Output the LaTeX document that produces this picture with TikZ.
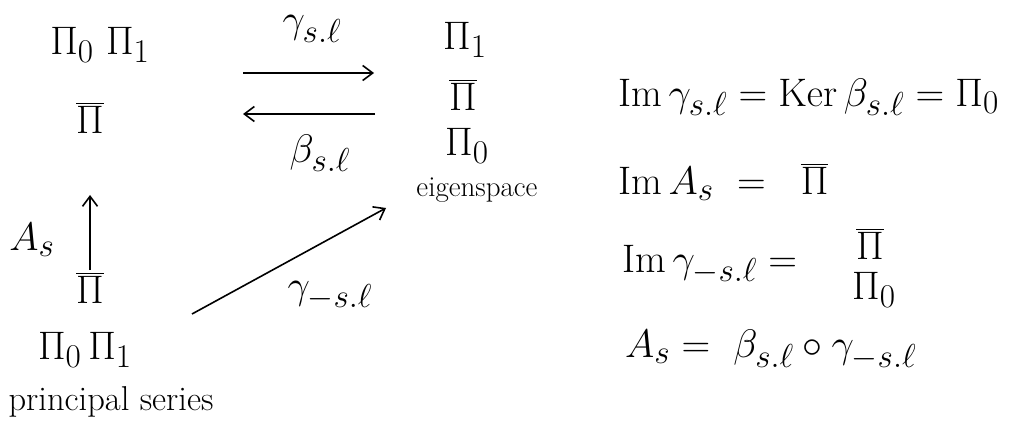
\documentclass[tikz,border=0pt]{standalone}
\usepackage{graphicx}
\usetikzlibrary{arrows.meta}
\newcommand{\myBM}[1]{\scalebox{1.6}{$#1$}}
\begin{document}
\begin{tikzpicture}[x=1pt,y=-1pt,
  lbl/.style={inner sep=0pt,font=\fontsize{24.88}{28}\selectfont},
  word/.style={inner sep=0pt,font=\fontsize{29}{32}\selectfont},
  arr/.style={line width=1.6pt,-{Straight Barb[length=10pt,width=15pt]}}]
\useasboundingbox (0,0) rectangle (1021,425);
% left column
\node[lbl] (a1) at (100,45) {\myBM{\Pi_0\ \Pi_1}};
\node[lbl] (a2) at (90,118) {\myBM{\overline{\Pi}}};
\node[lbl] (as) at (32,240) {\myBM{A_s}};
\coordinate (ut) at (90,195);
\coordinate (ub) at (90,270);
\draw[arr] (ub) -- (ut);
\node[lbl] (b2) at (90,288) {\myBM{\overline{\Pi}}};
\node[lbl] (b1) at (85,350) {\myBM{\Pi_0\,\Pi_1}};
\node[word] (ps) at (111,402) {\scalebox{1.19}{principal series}};
% middle arrows
\coordinate (r1) at (243,73);
\coordinate (r2) at (374,73);
\coordinate (l1) at (375,114);
\coordinate (l2) at (243,114);
\draw[arr] (r1) -- (r2);
\draw[arr] (l1) -- (l2);
\node[lbl] (g) at (312,29) {\myBM{\gamma_{s.\ell}}};
\node[lbl] (bt) at (320,153) {\myBM{\beta_{s.\ell}}};
% right column
\node[lbl] (c1) at (465,40) {\myBM{\Pi_1}};
\node[lbl] (c2) at (463,95) {\myBM{\overline{\Pi}}};
\node[lbl] (c3) at (467,146) {\myBM{\Pi_0}};
\node[word] (es) at (477,190) {eigenspace};
\coordinate (d1) at (192,314);
\coordinate (d2) at (386,208);
\draw[arr] (d1) -- (d2);
\node[lbl] (gm) at (330,296) {\myBM{\gamma_{-s.\ell}}};
% equations
\node[lbl,anchor=west] (e1) at (618,97) {\myBM{\mathrm{Im}\,\gamma_{s.\ell} = \mathrm{Ker}\,\beta_{s.\ell} = \Pi_0}};
\node[lbl,anchor=west] (e2) at (618,182) {\myBM{\mathrm{Im}\,A_s\ =\ \ \overline{\Pi}}};
\node[lbl,anchor=west] (e3) at (622,265) {\myBM{\mathrm{Im}\,\gamma_{-s.\ell} = }};
\node[lbl] (e3a) at (870,244) {\myBM{\overline{\Pi}}};
\node[lbl] (e3b) at (874,290) {\myBM{\Pi_0}};
\node[lbl,anchor=west] (e4) at (625,350) {\myBM{A_s = \ \beta_{s.\ell}\circ\gamma_{-s.\ell}}};
\end{tikzpicture}
\end{document}
